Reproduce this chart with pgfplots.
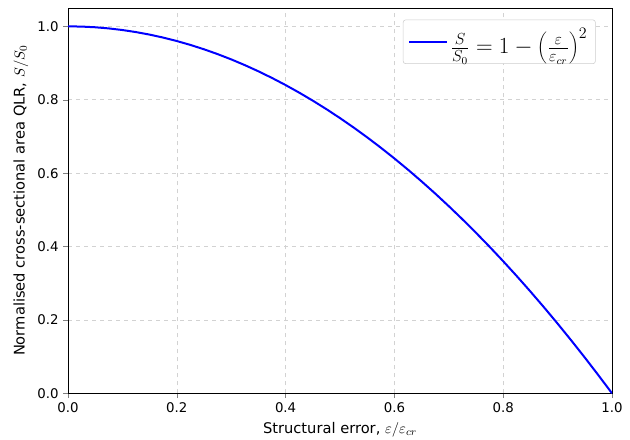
\documentclass[border=0pt]{standalone}
\usepackage{fontspec}
\setmainfont{DejaVu Sans}
\usepackage{pgfplots}
\pgfplotsset{compat=1.18}

\begin{document}
\begin{tikzpicture}
\useasboundingbox (-51pt,-34.5pt) rectangle (421.5pt,295pt);
\begin{axis}[
    scale only axis,
    width=408pt, height=289pt,
    xmin=0, xmax=1, ymin=0, ymax=1.05,
    xtick={0,0.2,0.4,0.6,0.8,1.0},
    ytick={0,0.2,0.4,0.6,0.8,1.0},
    xticklabel style={/pgf/number format/.cd,fixed,fixed zerofill,precision=1},
    yticklabel style={/pgf/number format/.cd,fixed,fixed zerofill,precision=1},
    /pgf/number format/assume math mode=true,
    tick label style={font=\fontsize{10}{12}\selectfont},
    tick align=outside, tick pos=left,
    major tick length=3.5pt,
    grid=major, grid style={dashed, gray!35},
    xlabel={Structural error, $\varepsilon/\varepsilon_{cr}$},
    ylabel={Normalised cross-sectional area QLR, $S/S_0$},
    label style={font=\fontsize{11}{13}\selectfont},
    legend pos=north east,
    legend style={font=\fontsize{17}{20}\selectfont, draw=gray!40, rounded corners=2pt, inner sep=4pt},
    legend cell align=left,
    legend image code/.code={\draw[#1] (0pt,0pt) -- (28pt,0pt);},
]
\addplot[color=blue, line width=1.5pt] coordinates {
(0.000,1.000000)(0.025,0.999375)(0.050,0.997500)(0.075,0.994375)
(0.100,0.990000)(0.125,0.984375)(0.150,0.977500)(0.175,0.969375)
(0.200,0.960000)(0.225,0.949375)(0.250,0.937500)(0.275,0.924375)
(0.300,0.910000)(0.325,0.894375)(0.350,0.877500)(0.375,0.859375)
(0.400,0.840000)(0.425,0.819375)(0.450,0.797500)(0.475,0.774375)
(0.500,0.750000)(0.525,0.724375)(0.550,0.697500)(0.575,0.669375)
(0.600,0.640000)(0.625,0.609375)(0.650,0.577500)(0.675,0.544375)
(0.700,0.510000)(0.725,0.474375)(0.750,0.437500)(0.775,0.399375)
(0.800,0.360000)(0.825,0.319375)(0.850,0.277500)(0.875,0.234375)
(0.900,0.190000)(0.925,0.144375)(0.950,0.097500)(0.975,0.049375)
(1.000,0.000000)
};
\addlegendentry{$\frac{S}{S_0} = 1 - \left(\frac{\varepsilon}{\varepsilon_{cr}}\right)^2$}
\end{axis}
\end{tikzpicture}
\end{document}
